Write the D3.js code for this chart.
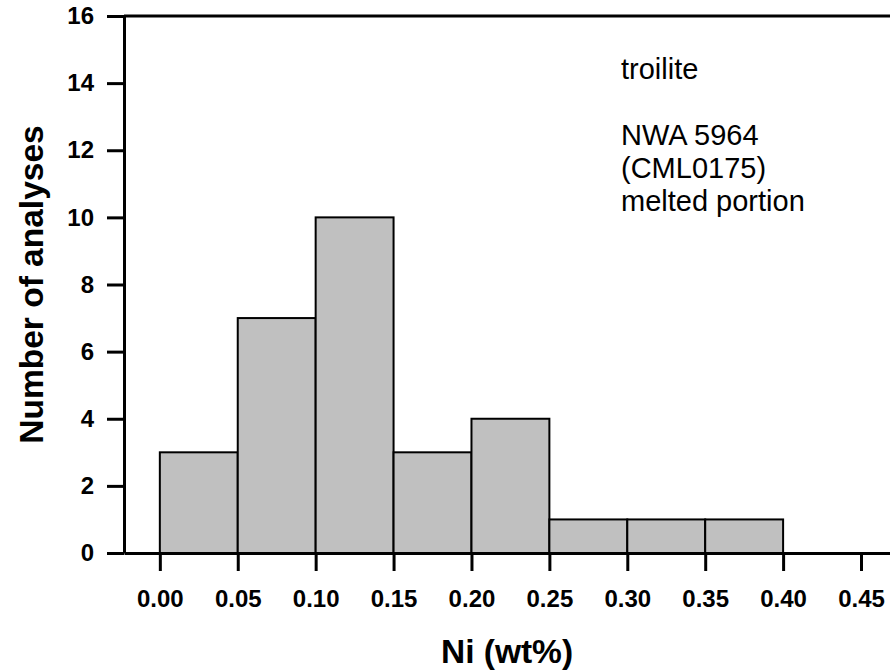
<!DOCTYPE html>
<html>
<head>
<meta charset="utf-8">
<script src="https://cdn.jsdelivr.net/npm/d3@7/dist/d3.min.js"></script>
<style>
  html, body { margin: 0; padding: 0; background: #fff; }
  svg { display: block; }
</style>
</head>
<body>
<svg id="chart" width="890" height="672"></svg>
<script>
// ---- data ----
const binStarts = [0.00, 0.05, 0.10, 0.15, 0.20, 0.25, 0.30, 0.35];
const binWidth = 0.05;
const counts = [3, 7, 10, 3, 4, 1, 1, 1];
const xTicks = [0.00, 0.05, 0.10, 0.15, 0.20, 0.25, 0.30, 0.35, 0.40, 0.45];
const yTicks = [0, 2, 4, 6, 8, 10, 12, 14, 16];
const xTitle = "Ni (wt%)";
const yTitle = "Number of analyses";
const noteLines = ["troilite", "", "NWA 5964", "(CML0175)", "melted portion"];

(function () {
// ---- layout ----
const svg = d3.select("#chart");
const pL = 124, pR = 890, pT = 16, pB = 553;

const x = d3.scaleLinear().domain([-0.023, 0.4686]).range([pL, pR]);
const y = d3.scaleLinear().domain([0, 16]).range([pB, pT]);

const font = "'Liberation Sans', Arial, Helvetica, sans-serif";

// bars
svg.append("g").selectAll("rect")
  .data(binStarts.map((s, i) => ({ s, c: counts[i] })))
  .join("rect")
  .attr("x", d => x(d.s))
  .attr("width", d => x(d.s + binWidth) - x(d.s))
  .attr("y", d => y(d.c))
  .attr("height", d => y(0) - y(d.c))
  .attr("fill", "#c0c0c0")
  .attr("stroke", "#000")
  .attr("stroke-width", 2);

// top frame line
svg.append("line")
  .attr("x1", pL).attr("x2", pR)
  .attr("y1", y(16)).attr("y2", y(16))
  .attr("stroke", "#000").attr("stroke-width", 3);

// x axis
const xAxis = svg.append("g")
  .attr("transform", `translate(0,${pB})`)
  .call(d3.axisBottom(x).tickValues(xTicks).tickSize(18).tickSizeOuter(0)
    .tickFormat(d3.format(".2f")));
xAxis.select(".domain").attr("stroke-width", 3);
xAxis.selectAll(".tick line").attr("stroke-width", 3);
xAxis.selectAll(".tick text")
  .attr("y", 37)
  .attr("font-family", font).attr("font-weight", "bold").attr("font-size", 24)
  .attr("fill", "#000");

// y axis
const yAxis = svg.append("g")
  .attr("transform", `translate(${pL},0)`)
  .call(d3.axisLeft(y).tickValues(yTicks).tickSize(17).tickSizeOuter(0).tickPadding(13));
yAxis.select(".domain").attr("stroke-width", 3);
yAxis.selectAll(".tick line").attr("stroke-width", 3);
yAxis.selectAll(".tick text")
  .attr("font-family", font).attr("font-weight", "bold").attr("font-size", 24)
  .attr("fill", "#000");

// axis titles
svg.append("text")
  .attr("x", (pL + pR) / 2).attr("y", 663)
  .attr("text-anchor", "middle")
  .attr("font-family", font).attr("font-weight", "bold").attr("font-size", 33.5)
  .text(xTitle);

svg.append("text")
  .attr("transform", `translate(43,${(pT + pB) / 2}) rotate(-90)`)
  .attr("text-anchor", "middle")
  .attr("font-family", font).attr("font-weight", "bold").attr("font-size", 33.5)
  .text(yTitle);

// annotation
const note = svg.append("text")
  .attr("font-family", font).attr("font-size", 29).attr("fill", "#000");
noteLines.forEach((t, i) => {
  note.append("tspan").attr("x", 621).attr("y", 79 + i * 33).text(t);
});
})();
</script>
</body>
</html>
